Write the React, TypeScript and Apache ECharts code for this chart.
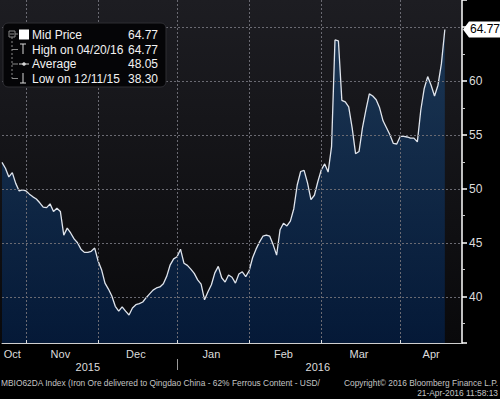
import React, { useEffect, useRef } from "react";
import * as echarts from "echarts";

// Axis range (weekday calendar, as Bloomberg plots it)
const AXIS_START = "2015-10-22";
const AXIS_END = "2016-04-27";

// Iron ore 62% Qingdao mid price, one value per weekday from 2015-10-22 to 2016-04-20
const prices: number[] = [
  52.45, 51.9, 51.1, 51.5, 50.5, 49.8, 49.9, 49.8, 49.5, 49.25,
  49.05, 48.7, 48.3, 48.25, 48.6, 47.9, 48.2, 47.9, 45.7, 46.35,
  45.9, 45.35, 45.0, 44.4, 44.1, 44.1, 44.2, 44.5, 43.3, 42.5,
  41.25, 40.7, 40.05, 39.1, 38.65, 39.05, 38.65, 38.3, 38.95, 39.25,
  39.35, 39.5, 39.9, 40.25, 40.6, 40.8, 40.9, 41.2, 41.9, 42.95,
  43.5, 43.7, 44.4, 43.1, 42.9, 42.55, 42.15, 41.55, 41.15, 39.7,
  40.45, 41.1, 42.2, 42.8, 41.75, 41.35, 42.0, 41.8, 41.25, 42.1,
  42.3, 41.85, 42.4, 43.6, 44.4, 45.05, 45.6, 45.7, 45.6, 44.8,
  43.85, 46.2, 46.8, 46.55, 47.0, 48.15, 50.35, 51.6, 51.7, 50.55,
  49.0, 49.4, 50.65, 51.75, 52.3, 51.55, 53.9, 63.8, 63.7, 58.2,
  58.05, 57.6, 55.65, 53.25, 53.45, 55.65, 57.3, 58.8, 58.6, 58.25,
  57.5, 56.3, 55.65, 55.0, 54.2, 54.15, 54.85, 54.85, 54.8, 54.7,
  54.7, 54.35, 57.3, 59.3, 60.4, 59.6, 58.6, 59.6, 61.6, 64.77,
];

// horizontal grid levels (major y ticks)
const yGridLevels = [40, 45, 50, 55, 60, 65];

const MONTHS = ["Jan", "Feb", "Mar", "Apr", "May", "Jun", "Jul", "Aug", "Sep", "Oct", "Nov", "Dec"];

const legendLabels = ["Mid Price", "High on 04/20/16", "Average", "Low on 12/11/15"];
const legendValues = ["64.77", "64.77", "48.05", "38.30"];

const footerLeft = "MBIO62DA Index (Iron Ore delivered to Qingdao China - 62% Ferrous Content - USD/";
const footerRight1 = "Copyright\u00A9 2016 Bloomberg Finance L.P.";
const footerRight2 = "21-Apr-2016 11:58:13";

const FONT = "'Liberation Sans', Arial, sans-serif";

function weekdays(start: string, end: string): string[] {
  const out: string[] = [];
  const d = new Date(start + "T00:00:00Z");
  const e = new Date(end + "T00:00:00Z");
  while (d <= e) {
    const wd = d.getUTCDay();
    if (wd !== 0 && wd !== 6) out.push(d.toISOString().slice(0, 10));
    d.setUTCDate(d.getUTCDate() + 1);
  }
  return out;
}

export default function App() {
  const ref = useRef<HTMLDivElement>(null);

  useEffect(() => {
    if (!ref.current) return;
    const chart = echarts.init(ref.current, undefined, { renderer: "svg" });

    const dates = weekdays(AXIS_START, AXIS_END);
    const last = dates.length - 1;
    const lastVal = prices[prices.length - 1];
    const Y_MIN = 35.7;
    const Y_MAX = 67.5;

    const monthStarts = new Set<number>();
    const yearStarts = new Set<number>();
    dates.forEach((d, i) => {
      if (i > 0 && d.slice(0, 7) !== dates[i - 1].slice(0, 7)) monthStarts.add(i);
      if (i > 0 && d.slice(0, 4) !== dates[i - 1].slice(0, 4)) yearStarts.add(i);
    });
    const mids = (starts: Set<number>) => {
      const b = [0, ...Array.from(starts), last];
      const s = new Set<number>();
      for (let k = 0; k < b.length - 1; k++) s.add(Math.floor((b[k] + b[k + 1]) / 2));
      return s;
    };
    const monthMids = mids(monthStarts);
    const yearMids = mids(yearStarts);

    const gridStyle = { stroke: "#6a6a72", lineWidth: 1, lineDash: [2, 2], fill: "none" };

    chart.setOption({
      animation: false,
      backgroundColor: "#000",
      textStyle: { fontFamily: FONT },
      grid: {
        left: 2,
        right: 38,
        top: 0,
        bottom: 56,
        show: false,
      },
      xAxis: [
        {
          type: "category",
          z: 5,
          data: dates,
          boundaryGap: false,
          axisLine: { show: true, lineStyle: { color: "#cfcfcf", width: 1 } },
          axisTick: {
            show: true,
            inside: true,
            length: 3,
            interval: (i: number) => monthStarts.has(i),
            lineStyle: { color: "#dddddd" },
          },
          axisLabel: {
            interval: (i: number) => monthMids.has(i),
            formatter: (v: string) => MONTHS[parseInt(v.slice(5, 7), 10) - 1],
            color: "#dcdcdc",
            fontSize: 11,
            fontFamily: FONT,
            margin: 5,
          },
          splitLine: { show: false },
        },
        {
          type: "category",
          z: 5,
          data: dates,
          boundaryGap: false,
          position: "bottom",
          offset: 16,
          axisLine: { show: false },
          axisTick: {
            show: true,
            length: 11,
            interval: (i: number) => yearStarts.has(i),
            lineStyle: { color: "#9a9a9a" },
          },
          axisLabel: {
            interval: (i: number) => yearMids.has(i),
            formatter: (v: string) => v.slice(0, 4),
            color: "#dcdcdc",
            fontSize: 11,
            fontFamily: FONT,
            margin: 2,
          },
          splitLine: { show: false },
        },
      ],
      yAxis: {
        type: "value",
        z: 5,
        position: "right",
        min: Y_MIN,
        max: Y_MAX,
        splitNumber: 6,
        axisLine: { show: true, lineStyle: { color: "#ffffff", width: 1.5 } },
        axisTick: { show: true, length: 5, lineStyle: { color: "#ffffff", width: 1.5 } },
        minorTick: { show: true, splitNumber: 2, length: 3, lineStyle: { color: "#cccccc" } },
        axisLabel: {
          color: "#dcdcdc",
          fontSize: 12,
          fontFamily: FONT,
          margin: 7,
          showMinLabel: false,
          showMaxLabel: false,
          // the last-price tag covers the label nearest to it
          formatter: (v: number) => (Math.abs(v - lastVal) < 2 ? "" : String(v)),
        },
        splitLine: { show: false },
      },
      series: [
        {
          type: "line",
          z: 2,
          xAxisIndex: 0,
          data: prices,
          symbol: "none",
          lineStyle: { color: "#dfe4ec", width: 1.3 },
          areaStyle: {
            origin: "start",
            color: new echarts.graphic.LinearGradient(0, 0, 0, 1, [
              { offset: 0, color: "#1b4169" },
              { offset: 1, color: "#03204a" },
            ]),
          },
        },
        // horizontal dotted grid lines
        {
          type: "custom",
          z: 3,
          silent: true,
          xAxisIndex: 0,
          data: yGridLevels.map((v) => [0, v]),
          renderItem: (params: any, api: any) => {
            const cs = params.coordSys;
            const y = Math.round(api.coord([0, api.value(1)])[1]) + 0.5;
            return {
              type: "line",
              shape: { x1: cs.x, y1: y, x2: cs.x + cs.width, y2: y },
              style: gridStyle,
            };
          },
        },
        // vertical dotted grid lines at month starts
        {
          type: "custom",
          z: 3,
          silent: true,
          xAxisIndex: 0,
          data: Array.from(monthStarts).map((i) => [i, Y_MIN]),
          renderItem: (params: any, api: any) => {
            const cs = params.coordSys;
            const x = Math.round(api.coord([api.value(0), api.value(1)])[0]) + 0.5;
            return {
              type: "line",
              shape: { x1: x, y1: cs.y, x2: x, y2: cs.y + cs.height },
              style: gridStyle,
            };
          },
        },
      ],
    });

    const ty = chart.convertToPixel({ yAxisIndex: 0 }, lastVal) as number;
    const tx = chart.convertToPixel({ xAxisIndex: 0 }, dates[last]) as number;
    const gTop = chart.convertToPixel({ yAxisIndex: 0 }, Y_MAX) as number;
    const gBottom = chart.convertToPixel({ yAxisIndex: 0 }, Y_MIN) as number;

    const rowY = [35, 49.5, 64, 78.5];
    const legendTexts: any[] = [];
    legendLabels.forEach((l, k) => {
      legendTexts.push({
        type: "text",
        z: 100,
        style: { x: 32, y: rowY[k], text: l, fill: "#f2f2f2", font: `12px ${FONT}`, textVerticalAlign: "middle" },
      });
      legendTexts.push({
        type: "text",
        z: 100,
        style: {
          x: 158,
          y: rowY[k],
          text: legendValues[k],
          fill: "#f2f2f2",
          font: `12px ${FONT}`,
          textAlign: "right",
          textVerticalAlign: "middle",
        },
      });
    });

    const treeStroke = { stroke: "#8a8a8a", lineWidth: 1 };
    const iconStroke = { stroke: "#d8d8d8", lineWidth: 1 };
    const footFont = `8.4px ${FONT}`;

    const front: any[] = [
      // price tag on the right axis
      {
        type: "polygon",
        shape: {
          points: [
            [tx + 1, ty],
            [tx + 7, ty - 8],
            [500, ty - 8],
            [500, ty + 8],
            [tx + 7, ty + 8],
          ],
        },
        style: { fill: "#ffffff" },
      },
      {
        type: "text",
        style: {
          x: tx + 8,
          y: ty,
          text: lastVal.toFixed(2),
          fill: "#000",
          font: `12px ${FONT}`,
          textVerticalAlign: "middle",
        },
      },
      // legend box
      {
        type: "rect",
        shape: { x: 3, y: 23, width: 163, height: 64, r: 5 },
        style: { fill: "#050507", stroke: "#2e2e33", lineWidth: 1 },
      },
      { type: "rect", shape: { x: 9, y: 31, width: 6, height: 6 }, style: { fill: "none", ...treeStroke } },
      { type: "line", shape: { x1: 10, y1: 34, x2: 14, y2: 34 }, style: treeStroke },
      { type: "line", shape: { x1: 12, y1: 37, x2: 12, y2: 78.5 }, style: { ...treeStroke, lineDash: [2, 2] } },
      { type: "line", shape: { x1: 12, y1: 49.5, x2: 18, y2: 49.5 }, style: treeStroke },
      { type: "line", shape: { x1: 12, y1: 64, x2: 18, y2: 64 }, style: treeStroke },
      { type: "line", shape: { x1: 12, y1: 78.5, x2: 18, y2: 78.5 }, style: treeStroke },
      { type: "line", shape: { x1: 15, y1: 34, x2: 18, y2: 34 }, style: treeStroke },
      // icons
      { type: "rect", shape: { x: 19, y: 29.5, width: 10, height: 10 }, style: { fill: "#ffffff" } },
      { type: "line", shape: { x1: 20, y1: 44, x2: 26, y2: 44 }, style: iconStroke },
      { type: "line", shape: { x1: 23, y1: 44, x2: 23, y2: 54 }, style: iconStroke },
      { type: "line", shape: { x1: 19, y1: 64, x2: 29, y2: 64 }, style: iconStroke },
      { type: "circle", shape: { cx: 24, cy: 64, r: 1.8 }, style: { fill: "#d8d8d8" } },
      { type: "line", shape: { x1: 23, y1: 73, x2: 23, y2: 83 }, style: iconStroke },
      { type: "line", shape: { x1: 20, y1: 83, x2: 26, y2: 83 }, style: iconStroke },
      // footer
      {
        type: "text",
        style: { x: 1, y: 383, text: footerLeft, fill: "#c4c4c4", font: footFont, textVerticalAlign: "middle" },
      },
      {
        type: "text",
        style: {
          x: 498,
          y: 383,
          text: footerRight1,
          fill: "#c4c4c4",
          font: footFont,
          textAlign: "right",
          textVerticalAlign: "middle",
        },
      },
      {
        type: "text",
        style: {
          x: 498,
          y: 393,
          text: footerRight2,
          fill: "#c4c4c4",
          font: footFont,
          textAlign: "right",
          textVerticalAlign: "middle",
        },
      },
    ].map((e) => ({ ...e, z: 100 }));

    // plot background, drawn behind everything
    const background = {
      type: "rect",
      z: -10,
      shape: { x: 0, y: gTop, width: tx, height: gBottom - gTop },
      style: {
        fill: new echarts.graphic.LinearGradient(0, 0, 0, 1, [
          { offset: 0, color: "#1d1d22" },
          { offset: 1, color: "#09090b" },
        ]),
      },
    };

    chart.setOption({ graphic: [background, ...front, ...legendTexts] });

    return () => chart.dispose();
  }, []);

  return (
    <div
      ref={ref}
      style={{ position: "fixed", left: 0, top: 0, width: 500, height: 399, background: "#000" }}
    />
  );
}
